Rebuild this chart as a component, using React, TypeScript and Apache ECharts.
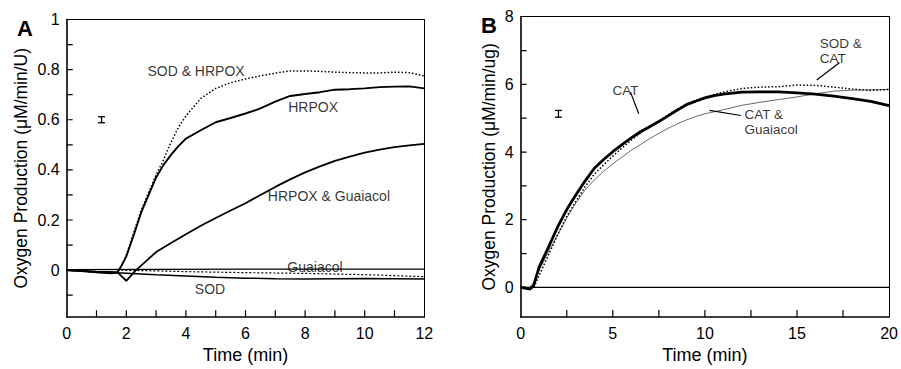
import React, { useEffect, useRef } from "react";
import * as echarts from "echarts";

const FONT = '"Liberation Sans", Arial, Helvetica, sans-serif';
const W = 901;
const H = 369;

// ---------- Panel A (per unit HRPOX) ----------
const A_T_MAIN = [0, 0.5, 1, 1.5, 1.7, 1.85, 2, 2.25, 2.5, 2.75, 3, 3.25, 3.5, 3.75, 4, 4.5, 5, 5.5, 6, 6.5, 7, 7.5, 8, 8.5, 9, 9.5, 10, 10.5, 11, 11.5, 12];
const A_HRPOX = [0, -0.004, -0.009, -0.013, -0.01, 0.02, 0.055, 0.14, 0.23, 0.3, 0.37, 0.42, 0.46, 0.495, 0.525, 0.558, 0.59, 0.607, 0.625, 0.645, 0.672, 0.695, 0.703, 0.71, 0.72, 0.722, 0.725, 0.73, 0.732, 0.733, 0.725];
const A_SOD_HRPOX = [0, -0.004, -0.009, -0.013, -0.01, 0.02, 0.06, 0.15, 0.24, 0.31, 0.38, 0.44, 0.51, 0.57, 0.615, 0.685, 0.725, 0.748, 0.763, 0.775, 0.786, 0.795, 0.795, 0.793, 0.79, 0.788, 0.787, 0.787, 0.79, 0.788, 0.775];
const A_T_HG = [0, 1, 1.7, 2, 2.3, 2.7, 3, 3.5, 4, 4.5, 5, 5.5, 6, 6.5, 7, 7.5, 8, 8.5, 9, 9.5, 10, 10.5, 11, 11.5, 12];
const A_HRPOX_GUAIACOL = [0, -0.006, -0.008, -0.043, -0.003, 0.04, 0.072, 0.108, 0.143, 0.177, 0.208, 0.238, 0.267, 0.3, 0.332, 0.362, 0.39, 0.414, 0.436, 0.453, 0.469, 0.481, 0.491, 0.498, 0.504];
const A_T_GUAIACOL = [0, 6, 12];
const A_GUAIACOL = [0.002, 0.004, 0.004];
const A_T_CTRL = [1.7, 3, 4, 6, 8, 10, 12];
const A_CTRL = [0, -0.003, -0.006, -0.01, -0.013, -0.018, -0.026];
const A_T_SOD = [0, 1, 2, 3, 4, 5, 6, 7, 8, 9, 10, 11, 12];
const A_SOD = [0, -0.006, -0.012, -0.018, -0.023, -0.028, -0.032, -0.034, -0.035, -0.034, -0.033, -0.034, -0.035];
const A_ERR = [1.17, 0.6, 0.012];

const A_X_MIN = 0;
const A_X_MAX = 12;
const A_Y_MIN = -0.187;
const A_Y_MAX = 1;
const A_X_LABELS = [0, 2, 4, 6, 8, 10, 12];
const A_Y_LABELS = [0, 0.2, 0.4, 0.6, 0.8, 1];
const A_X_TICKS = [1, 2, 3, 4, 5, 6, 7, 8, 9, 10, 11];
const A_Y_TICKS = [-0.1, 0, 0.1, 0.2, 0.3, 0.4, 0.5, 0.6, 0.7, 0.8, 0.9];

const A_LABEL_TEXT = ["SOD & HRPOX", "HRPOX", "HRPOX & Guaiacol", "Guaiacol", "SOD"];
const A_LABEL_T = [4.34, 8.27, 8.8, 8.33, 4.81];
const A_LABEL_V = [0.794, 0.65, 0.294, 0.014, -0.074];

// ---------- Panel B (per ug catalase) ----------
const B_T = [0, 0.3, 0.5, 0.7, 1, 1.5, 2, 2.5, 3, 3.5, 4, 4.5, 5, 5.5, 6, 6.5, 7, 7.5, 8, 8.5, 9, 9.5, 10, 10.5, 11, 12, 13, 14, 15, 16, 17, 18, 19, 20];
const B_CAT = [0, -0.03, -0.05, 0.05, 0.6, 1.18, 1.78, 2.3, 2.74, 3.15, 3.52, 3.78, 4.01, 4.22, 4.42, 4.6, 4.75, 4.9, 5.07, 5.24, 5.4, 5.5, 5.6, 5.67, 5.71, 5.77, 5.78, 5.78, 5.75, 5.71, 5.65, 5.58, 5.5, 5.37];
const B_SOD_CAT = [0, -0.03, -0.05, -0.02, 0.35, 0.95, 1.55, 2.1, 2.55, 2.98, 3.35, 3.62, 3.88, 4.12, 4.35, 4.56, 4.75, 4.92, 5.1, 5.27, 5.42, 5.53, 5.62, 5.7, 5.77, 5.88, 5.92, 5.93, 5.98, 5.97, 5.92, 5.86, 5.82, 5.85];
const B_CAT_GUAIACOL = [0, 0, 0, 0.15, 0.5, 1.05, 1.55, 2.05, 2.5, 2.88, 3.18, 3.43, 3.65, 3.85, 4.05, 4.22, 4.4, 4.55, 4.7, 4.83, 4.95, 5.05, 5.13, 5.19, 5.25, 5.38, 5.47, 5.55, 5.63, 5.72, 5.8, 5.83, 5.84, 5.85];
const B_T_ZERO = [0, 20];
const B_ZERO = [0, 0];
const B_ERR = [2.05, 5.13, 0.1];

const B_X_MIN = 0;
const B_X_MAX = 20;
const B_Y_MIN = -0.875;
const B_Y_MAX = 8;
const B_X_LABELS = [0, 5, 10, 15, 20];
const B_Y_LABELS = [0, 2, 4, 6, 8];
const B_X_TICKS = [2.5, 5, 7.5, 10, 12.5, 15, 17.5];
const B_Y_TICKS = [0, 1, 2, 3, 4, 5, 6, 7];

const B_LABEL_TEXT = ["CAT", "SOD &\nCAT", "CAT &\nGuaiacol"];
const B_LABEL_T = [5.69, 16.23, 12.15];
const B_LABEL_V = [5.82, 6.98, 4.88];
const B_LABEL_ALIGN = ["center", "left", "left"];

const B_LEADERS = [
  [[5.96, 5.77], [6.41, 5.13]],
  [[17.3, 6.64], [16.07, 6.13]],
  [[11.95, 5.08], [10.25, 5.23]],
];

// ---------- layout ----------
const GRID_A = { left: 66.7, right: 476.7, top: 19.5, bottom: 46.3 };
const GRID_B = { left: 520.7, right: 7.7, top: 16.7, bottom: 48 };
const TICK_LEN_X = 7; // px, ticks on the time axis
const TICK_LEN_Y = 6; // px, ticks on the value axis

const zip = (t: number[], v: number[]) => t.map((x, i) => [x, v[i]]);

const errRender = (_params: any, api: any) => {
  const x = api.value(0);
  const y = api.value(1);
  const e = api.value(2);
  const p1 = api.coord([x, y + e]);
  const p2 = api.coord([x, y - e]);
  const w = 3.5;
  const style = { stroke: "#000", lineWidth: 1.3 };
  return {
    type: "group",
    children: [
      { type: "line", shape: { x1: p1[0], y1: p1[1], x2: p2[0], y2: p2[1] }, style },
      { type: "line", shape: { x1: p1[0] - w, y1: p1[1], x2: p1[0] + w, y2: p1[1] }, style },
      { type: "line", shape: { x1: p2[0] - w, y1: p2[1], x2: p2[0] + w, y2: p2[1] }, style },
    ],
  };
};

const lineSeries = (name: string, idx: number, data: number[][], width: number, type: any, color = "#000", z = 3) => ({
  type: "line",
  name,
  xAxisIndex: idx,
  yAxisIndex: idx,
  data,
  showSymbol: false,
  symbol: "none",
  silent: true,
  z,
  lineStyle: { color, width, type },
});

// inside tick marks as short line series placed on the axes' scales
const tickLines = (
  idx: number,
  grid: { left: number; right: number; top: number; bottom: number },
  xMin: number,
  xMax: number,
  yMin: number,
  yMax: number,
  xTicks: number[],
  yTicks: number[]
) => {
  const pxPerX = (W - grid.left - grid.right) / (xMax - xMin);
  const pxPerY = (H - grid.top - grid.bottom) / (yMax - yMin);
  const dy = TICK_LEN_X / pxPerY;
  const dx = TICK_LEN_Y / pxPerX;
  return [
    ...xTicks.map((t, i) => lineSeries("xtick" + idx + "_" + i, idx, [[t, yMin], [t, yMin + dy]], 1.2, "solid", "#000", 8)),
    ...yTicks.map((v, i) => lineSeries("ytick" + idx + "_" + i, idx, [[xMin, v], [xMin + dx, v]], 1.2, "solid", "#000", 8)),
  ];
};

const xAxisCfg = (idx: number, min: number, max: number, labels: number[]) => ({
  type: "value",
  gridIndex: idx,
  position: "bottom",
  min,
  max,
  name: "Time (min)",
  nameLocation: "middle",
  nameGap: 29,
  nameTextStyle: { color: "#000", fontSize: 18, fontFamily: FONT },
  axisLine: { show: true, onZero: false, lineStyle: { color: "#000", width: 1.6 } },
  axisTick: { show: false },
  axisLabel: { customValues: labels, color: "#000", fontSize: 16, fontFamily: FONT, margin: 8 },
  splitLine: { show: false },
});

const yAxisCfg = (idx: number, min: number, max: number, labels: number[], name: string, gap: number) => ({
  type: "value",
  gridIndex: idx,
  position: "left",
  min,
  max,
  name,
  nameLocation: "middle",
  nameGap: gap,
  nameTextStyle: { color: "#000", fontSize: 17.5, fontFamily: FONT },
  axisLine: { show: true, onZero: false, lineStyle: { color: "#000", width: 1.6 } },
  axisTick: { show: false },
  axisLabel: { customValues: labels, color: "#000", fontSize: 16, fontFamily: FONT, margin: 7 },
  splitLine: { show: false },
});

const frameAxis = (idx: number, position: string, min: number, max: number) => ({
  type: "value",
  gridIndex: idx,
  position,
  min,
  max,
  axisLine: { show: true, onZero: false, lineStyle: { color: "#000", width: 1 } },
  axisTick: { show: false },
  axisLabel: { show: false },
  splitLine: { show: false },
});

export default function App() {
  const ref = useRef<HTMLDivElement>(null);
  useEffect(() => {
    document.body.style.margin = "0";
    if (!ref.current) return;
    const chart = echarts.init(ref.current, null, { renderer: "svg" });
    const option: any = {
      animation: false,
      title: [
        { text: "A", left: 12, top: 12, textStyle: { fontSize: 22, fontWeight: "bold", color: "#000", fontFamily: FONT } },
        { text: "B", left: 476, top: 9, textStyle: { fontSize: 22, fontWeight: "bold", color: "#000", fontFamily: FONT } },
      ],
      grid: [GRID_A, GRID_B],
      xAxis: [
        xAxisCfg(0, A_X_MIN, A_X_MAX, A_X_LABELS),
        xAxisCfg(1, B_X_MIN, B_X_MAX, B_X_LABELS),
        frameAxis(0, "top", A_X_MIN, A_X_MAX),
        frameAxis(1, "top", B_X_MIN, B_X_MAX),
      ],
      yAxis: [
        yAxisCfg(0, A_Y_MIN, A_Y_MAX, A_Y_LABELS, "Oxygen Production (μM/min/U)", 37),
        yAxisCfg(1, B_Y_MIN, B_Y_MAX, B_Y_LABELS, "Oxygen Production (μM/min/ug)", 23),
        frameAxis(0, "right", A_Y_MIN, A_Y_MAX),
        frameAxis(1, "right", B_Y_MIN, B_Y_MAX),
      ],
      series: [
        lineSeries("Guaiacol", 0, zip(A_T_GUAIACOL, A_GUAIACOL), 1.2, "solid"),
        lineSeries("Control", 0, zip(A_T_CTRL, A_CTRL), 1.2, [2, 2]),
        lineSeries("SOD", 0, zip(A_T_SOD, A_SOD), 1.5, "solid"),
        lineSeries("HRPOX & Guaiacol", 0, zip(A_T_HG, A_HRPOX_GUAIACOL), 1.8, "solid"),
        lineSeries("SOD & HRPOX", 0, zip(A_T_MAIN, A_SOD_HRPOX), 1.5, [1.5, 2]),
        lineSeries("HRPOX", 0, zip(A_T_MAIN, A_HRPOX), 1.9, "solid", "#000", 4),
        ...tickLines(0, GRID_A, A_X_MIN, A_X_MAX, A_Y_MIN, A_Y_MAX, A_X_TICKS, A_Y_TICKS),
        {
          type: "custom",
          xAxisIndex: 0,
          yAxisIndex: 0,
          renderItem: errRender,
          encode: { x: 0, y: 1 },
          data: [A_ERR],
          silent: true,
        },
        {
          type: "scatter",
          xAxisIndex: 0,
          yAxisIndex: 0,
          symbolSize: 0,
          silent: true,
          z: 6,
          data: A_LABEL_TEXT.map((t, i) => ({ name: t, value: [A_LABEL_T[i], A_LABEL_V[i]] })),
          label: {
            show: true,
            position: [0, 0],
            align: "center",
            verticalAlign: "middle",
            formatter: "{b}",
            color: "#000",
            fontSize: 14,
            fontFamily: FONT,
          },
        },
        lineSeries("Zero", 1, zip(B_T_ZERO, B_ZERO), 1.2, "solid"),
        lineSeries("CAT & Guaiacol", 1, zip(B_T, B_CAT_GUAIACOL), 0.8, "solid", "#444"),
        lineSeries("SOD & CAT", 1, zip(B_T, B_SOD_CAT), 1.5, [1.5, 2]),
        lineSeries("CAT", 1, zip(B_T, B_CAT), 2.8, "solid", "#000", 4),
        ...B_LEADERS.map((seg, i) => lineSeries("leader" + i, 1, seg, 1.2, "solid", "#000", 5)),
        ...tickLines(1, GRID_B, B_X_MIN, B_X_MAX, B_Y_MIN, B_Y_MAX, B_X_TICKS, B_Y_TICKS),
        {
          type: "custom",
          xAxisIndex: 1,
          yAxisIndex: 1,
          renderItem: errRender,
          encode: { x: 0, y: 1 },
          data: [B_ERR],
          silent: true,
        },
        {
          type: "scatter",
          xAxisIndex: 1,
          yAxisIndex: 1,
          symbolSize: 0,
          silent: true,
          z: 6,
          data: B_LABEL_TEXT.map((t, i) => ({
            name: t,
            value: [B_LABEL_T[i], B_LABEL_V[i]],
            label: { align: B_LABEL_ALIGN[i] },
          })),
          label: {
            show: true,
            position: [0, 0],
            align: "center",
            verticalAlign: "middle",
            formatter: "{b}",
            color: "#000",
            fontSize: 13.5,
            lineHeight: 15,
            fontFamily: FONT,
          },
        },
      ],
    };
    chart.setOption(option);
    return () => chart.dispose();
  }, []);
  return <div ref={ref} style={{ width: W, height: H }} />;
}
